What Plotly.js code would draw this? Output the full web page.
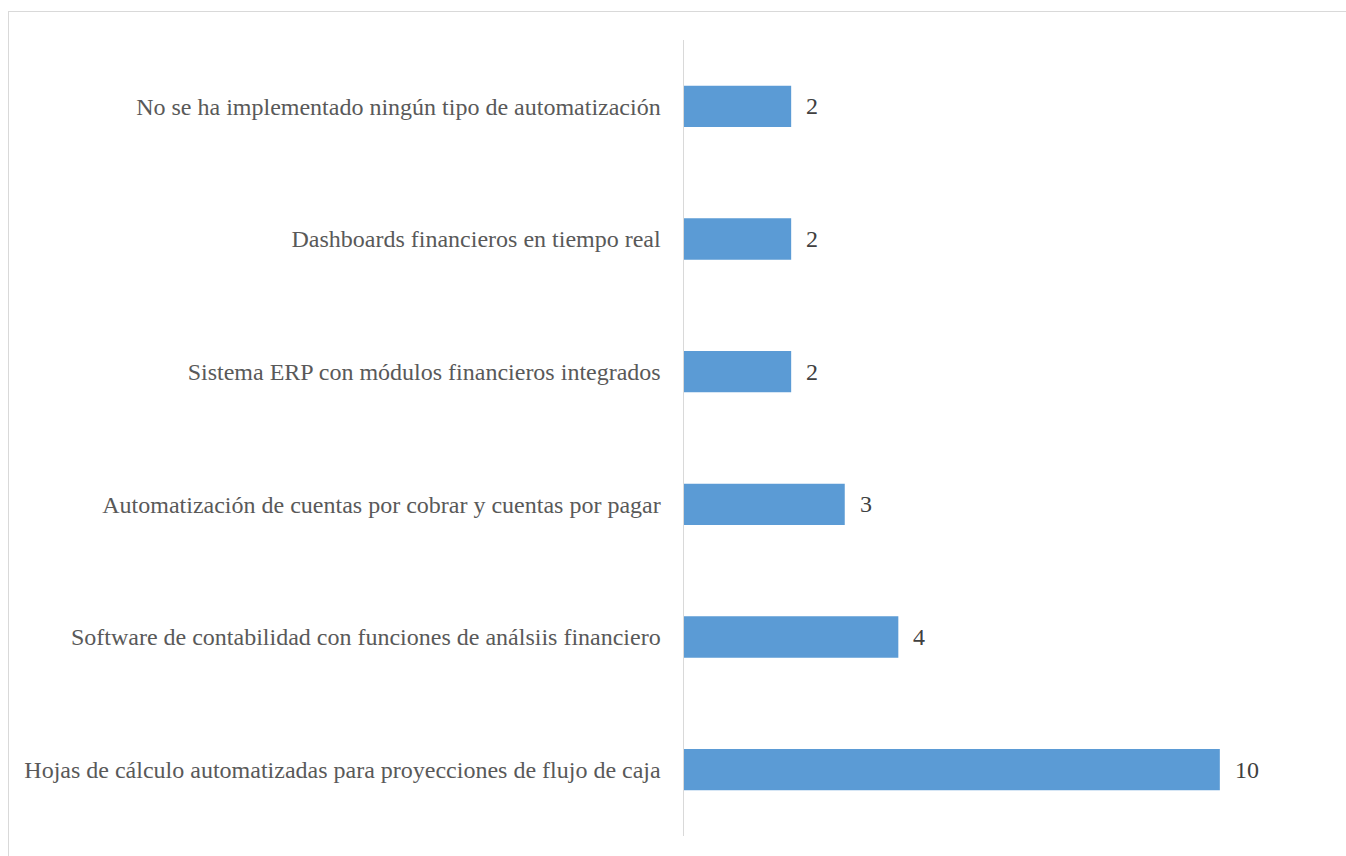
<!DOCTYPE html>
<html>
<head>
<meta charset="utf-8">
<script src="https://cdn.plot.ly/plotly-3.0.1.min.js"></script>
<style>
html,body{margin:0;padding:0;background:#fff;overflow:hidden;}
#frame{position:absolute;left:8px;top:11px;width:1400px;height:900px;border:1px solid #d9d9d9;box-sizing:border-box;}
#chart{position:absolute;left:0;top:0;width:1346px;height:856px;}
</style>
</head>
<body>
<div id="frame"></div>
<div id="chart"></div>
<script>
const categories = [
  "Hojas de cálculo automatizadas para proyecciones de flujo de caja",
  "Software de contabilidad con funciones de análsiis financiero",
  "Automatización de cuentas por cobrar y cuentas por pagar",
  "Sistema ERP con módulos financieros integrados",
  "Dashboards financieros en tiempo real",
  "No se ha implementado ningún tipo de automatización"
];
const values = [10, 4, 3, 2, 2, 2];

const FONT = '"Liberation Serif", "Times New Roman", serif';

const trace = {
  type: 'bar',
  orientation: 'h',
  y: categories,
  x: values,
  width: 0.311,
  marker: {color: '#5b9bd5'},
  hoverinfo: 'none'
};

const annotations = values.map((v, i) => ({
  x: v, y: categories[i], xref: 'x', yref: 'y',
  text: String(v), showarrow: false, xanchor: 'left', xshift: 13,
  font: {family: FONT, size: 24, color: '#404040'}
}));

const layout = {
  width: 1346, height: 856,
  margin: {l: 683.5, r: 19, t: 40, b: 20},
  paper_bgcolor: 'rgba(0,0,0,0)',
  plot_bgcolor: 'rgba(0,0,0,0)',
  showlegend: false,
  xaxis: {range: [0, 12], visible: false, showgrid: false, zeroline: false},
  yaxis: {
    type: 'category',
    categoryorder: 'array', categoryarray: categories,
    showline: true, linecolor: '#d9d9d9', linewidth: 1.5,
    showgrid: false, zeroline: false,
    ticks: '', ticklabelstandoff: 17,
    tickfont: {family: FONT, size: 24, color: '#595959'}
  },
  annotations: annotations
};

Plotly.newPlot('chart', [trace], layout, {displayModeBar: false, staticPlot: true});
</script>
</body>
</html>
